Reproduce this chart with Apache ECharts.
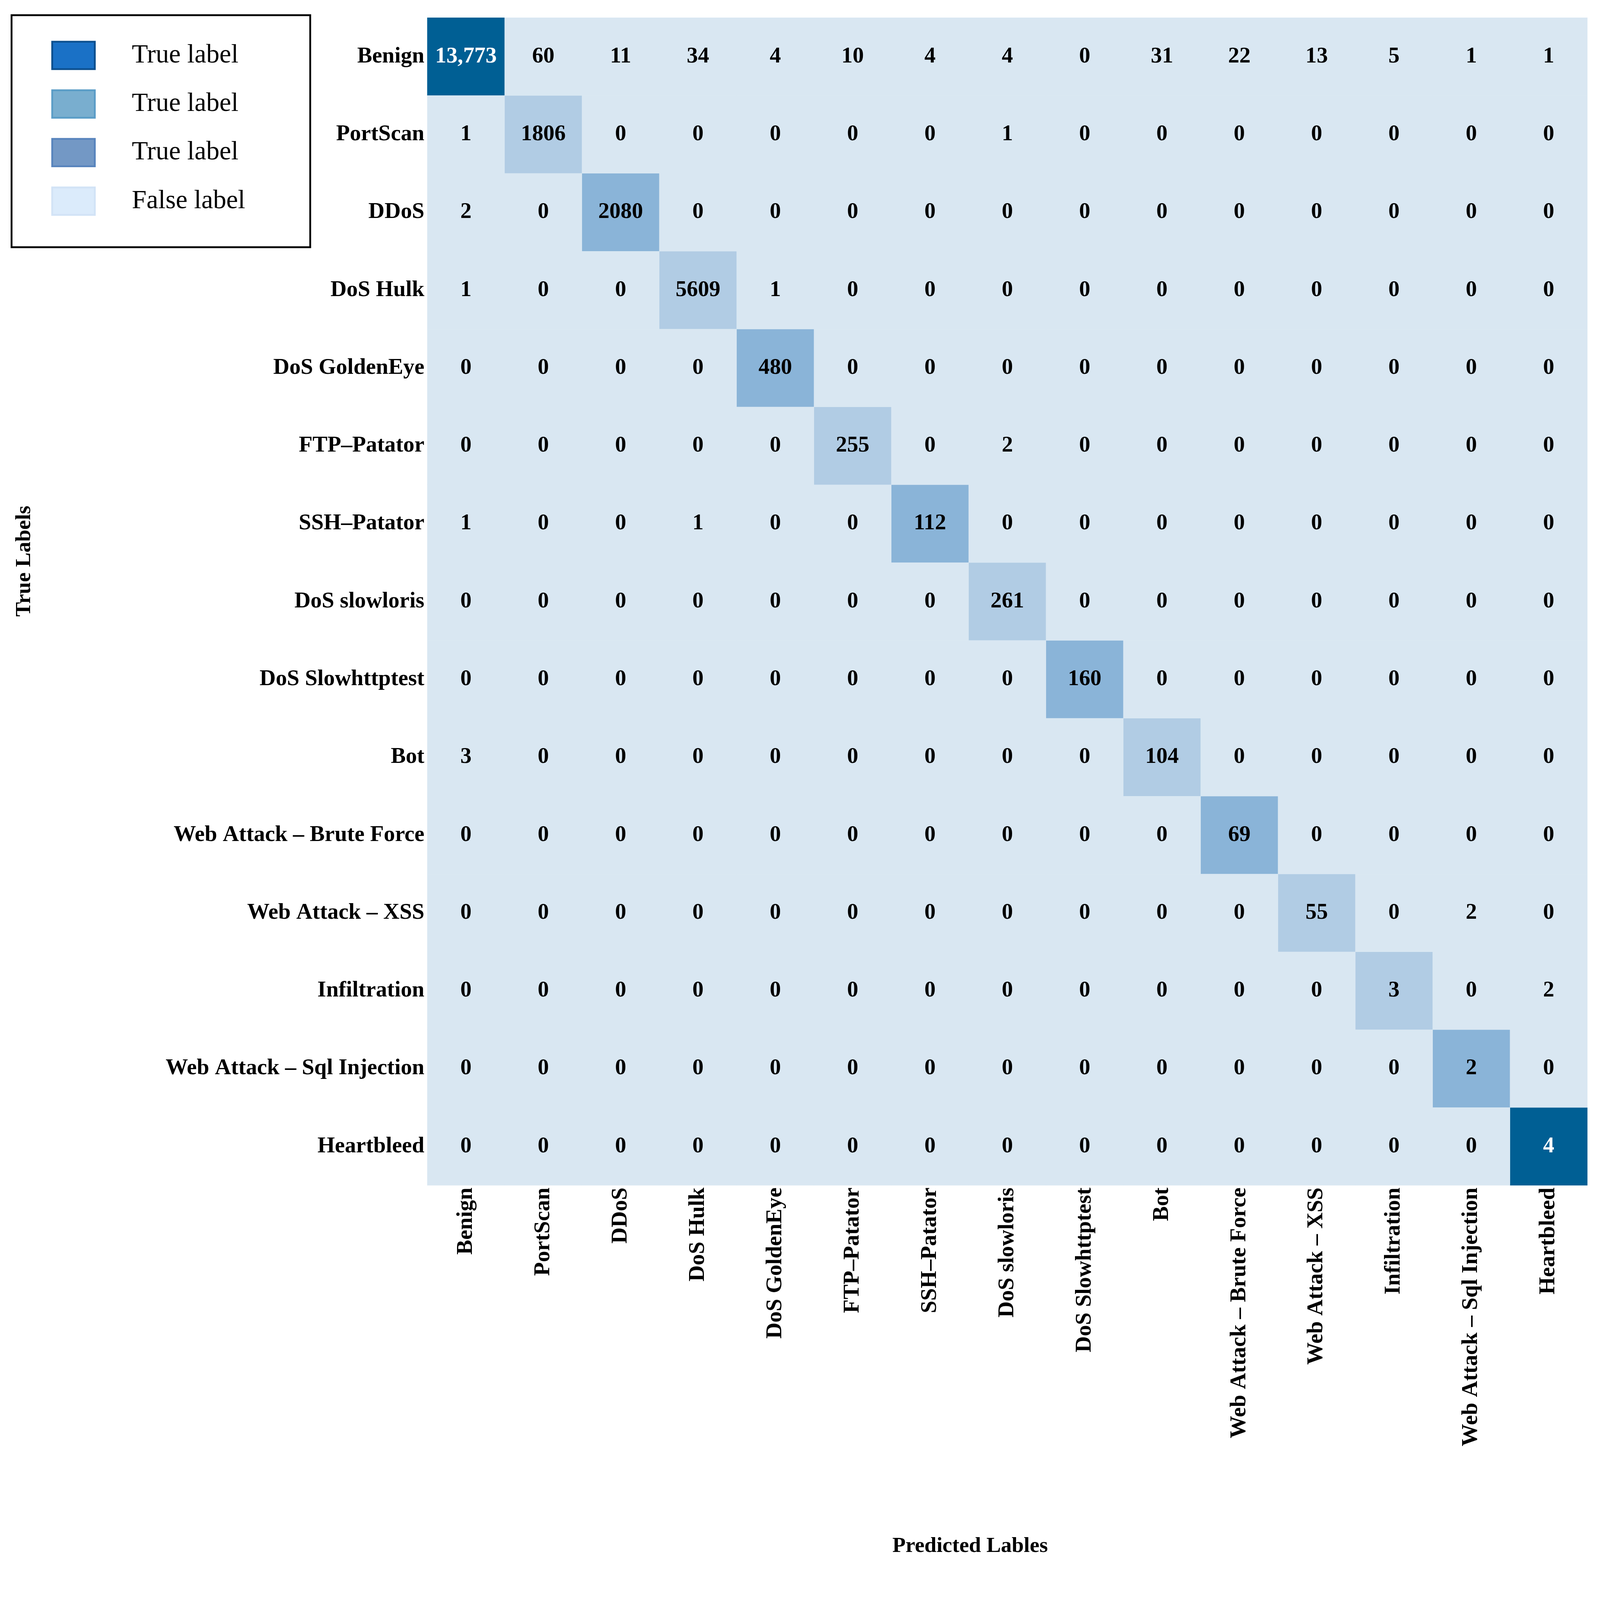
<!DOCTYPE html>
<html>
<head>
<meta charset="utf-8">
<script src="https://cdn.jsdelivr.net/npm/echarts@6/dist/echarts.min.js"></script>
<style>
html,body{margin:0;padding:0;background:#fff;overflow:hidden;}
#chart{width:100vw;height:100vh;}
</style>
</head>
<body>
<div id="chart"></div>
<script>
const classNames = ['Benign','PortScan','DDoS','DoS Hulk','DoS GoldenEye','FTP–Patator','SSH–Patator','DoS slowloris','DoS Slowhttptest','Bot','Web Attack – Brute Force','Web Attack – XSS','Infiltration','Web Attack – Sql Injection','Heartbleed'];

// rows = true labels, columns = predicted labels
const confusion = [
  [13773, 60, 11, 34, 4, 10, 4, 4, 0, 31, 22, 13, 5, 1, 1],
  [1, 1806, 0, 0, 0, 0, 0, 1, 0, 0, 0, 0, 0, 0, 0],
  [2, 0, 2080, 0, 0, 0, 0, 0, 0, 0, 0, 0, 0, 0, 0],
  [1, 0, 0, 5609, 1, 0, 0, 0, 0, 0, 0, 0, 0, 0, 0],
  [0, 0, 0, 0, 480, 0, 0, 0, 0, 0, 0, 0, 0, 0, 0],
  [0, 0, 0, 0, 0, 255, 0, 2, 0, 0, 0, 0, 0, 0, 0],
  [1, 0, 0, 1, 0, 0, 112, 0, 0, 0, 0, 0, 0, 0, 0],
  [0, 0, 0, 0, 0, 0, 0, 261, 0, 0, 0, 0, 0, 0, 0],
  [0, 0, 0, 0, 0, 0, 0, 0, 160, 0, 0, 0, 0, 0, 0],
  [3, 0, 0, 0, 0, 0, 0, 0, 0, 104, 0, 0, 0, 0, 0],
  [0, 0, 0, 0, 0, 0, 0, 0, 0, 0, 69, 0, 0, 0, 0],
  [0, 0, 0, 0, 0, 0, 0, 0, 0, 0, 0, 55, 0, 2, 0],
  [0, 0, 0, 0, 0, 0, 0, 0, 0, 0, 0, 0, 3, 0, 2],
  [0, 0, 0, 0, 0, 0, 0, 0, 0, 0, 0, 0, 0, 2, 0],
  [0, 0, 0, 0, 0, 0, 0, 0, 0, 0, 0, 0, 0, 0, 4]
];

// shade group of each diagonal cell: 0 = dark, 1 = light, 2 = medium
const diagonalGroup = [0, 1, 2, 1, 2, 1, 2, 1, 2, 1, 2, 1, 1, 2, 0];

const seriesNames = ['True label', 'True label ', 'True label  ', 'False label'];
const cellColors = ['#005f94', '#b1cce4', '#8ab4d8', '#d9e7f2'];
const labelColors = ['#ffffff', '#000000', '#000000', '#000000'];
const legendColors = ['#1a71c6', '#79aecf', '#7398c5', '#dbebfb'];
const legendBorders = ['#0b4f8e', '#5b9dc7', '#5884bd', '#d2e3f6'];

const FONT = "'Liberation Serif', 'Times New Roman', serif";

// layout designed for a 4430 x 4337 canvas; scale to the actual viewport
const el = document.getElementById('chart');
const s = Math.min(el.clientWidth / 4430, el.clientHeight / 4337);
function S(v) { return v * s; }

const groups = [[], [], [], []];
confusion.forEach(function (row, r) {
  row.forEach(function (v, c) {
    const g = (r === c) ? diagonalGroup[r] : 3;
    groups[g].push([c, r, v]);
  });
});

const series = groups.map(function (d, g) {
  return {
    name: seriesNames[g],
    type: 'heatmap',
    data: d,
    itemStyle: { color: cellColors[g] },
    label: {
      show: true,
      fontFamily: FONT,
      fontWeight: 'bold',
      fontSize: S(62),
      color: labelColors[g],
      formatter: function (p) {
        const v = p.value[2];
        return v >= 10000 ? v.toLocaleString('en-US') : String(v);
      }
    },
    emphasis: { disabled: true }
  };
});

const chart = echarts.init(el, null, { renderer: 'canvas' });
chart.setOption({
  animation: false,
  backgroundColor: '#ffffff',
  grid: { left: S(1183), top: S(49), right: el.clientWidth - S(4395), bottom: el.clientHeight - S(3282) },
  legend: {
    orient: 'vertical',
    left: S(32),
    top: S(42),
    padding: [S(71), S(94), S(87), S(110)],
    itemWidth: S(118),
    itemHeight: S(76),
    itemGap: S(53.5),
    borderColor: '#000',
    borderWidth: S(5),
    icon: 'rect',
    selectedMode: false,
    textStyle: {
      fontFamily: FONT,
      fontSize: S(73),
      color: '#000',
      lineHeight: S(76),
      width: S(400),
      padding: [0, 0, 0, S(97)]
    },
    data: seriesNames.map(function (n, i) {
      return { name: n, itemStyle: { color: legendColors[i], borderColor: legendBorders[i], borderWidth: S(5) } };
    })
  },
  xAxis: {
    type: 'category',
    data: classNames,
    name: 'Predicted Lables',
    nameLocation: 'middle',
    nameGap: S(970),
    nameTextStyle: { fontFamily: FONT, fontWeight: 'bold', fontSize: S(60), color: '#000', padding: [0, S(206), 0, 0] },
    axisLine: { show: false },
    axisTick: { show: false },
    splitLine: { show: false },
    axisLabel: { interval: 0, rotate: 90, margin: S(6), fontFamily: FONT, fontWeight: 'bold', fontSize: S(62), color: '#000' }
  },
  yAxis: {
    type: 'category',
    data: classNames,
    inverse: true,
    name: 'True Labels',
    nameLocation: 'middle',
    nameRotate: 90,
    nameGap: S(1085),
    nameTextStyle: { fontFamily: FONT, fontWeight: 'bold', fontSize: S(60), color: '#000', padding: [0, 0, 0, S(224)] },
    axisLine: { show: false },
    axisTick: { show: false },
    splitLine: { show: false },
    axisLabel: { interval: 0, margin: S(8), fontFamily: FONT, fontWeight: 'bold', fontSize: S(62), color: '#000' }
  },
  series: series
});
</script>
</body>
</html>
